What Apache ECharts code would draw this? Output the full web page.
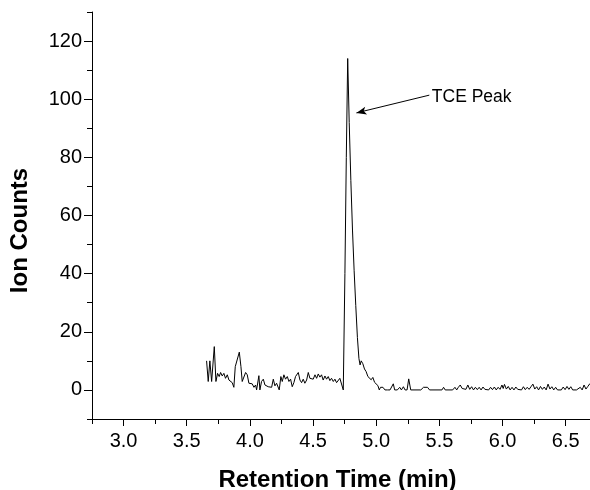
<!DOCTYPE html>
<html>
<head>
<meta charset="utf-8">
<script src="https://cdn.jsdelivr.net/npm/echarts@6/dist/echarts.min.js"></script>
<style>
html,body{margin:0;padding:0;background:#fff;}
#chart{width:590px;height:490px;}
</style>
</head>
<body>
<div id="chart"></div>
<script>
// Retention time (min)
const times = [
3.657,3.670,3.683,3.697,3.718,3.731,3.744,3.757,3.768,3.781,3.794,3.807,3.821,3.834,3.847,3.860,3.873,3.884,3.894,3.916,
3.929,3.939,3.953,3.966,3.979,3.992,4.005,4.018,4.032,4.045,4.053,4.071,4.079,4.092,4.106,4.119,4.132,4.145,4.158,4.172,
4.185,4.198,4.211,4.232,4.245,4.256,4.269,4.282,4.296,4.309,4.322,4.335,4.348,4.361,4.383,4.396,4.409,4.422,4.435,4.449,
4.462,4.475,4.488,4.501,4.515,4.528,4.541,4.554,4.567,4.580,4.594,4.607,4.620,4.633,4.646,4.660,4.673,4.686,4.699,4.712,
4.726,4.739,4.752,4.763,4.774,4.786,4.799,4.812,4.825,4.838,4.851,4.863,4.872,4.881,4.894,4.907,4.920,4.934,4.947,4.960,
4.973,4.987,5.000,5.013,5.024,5.034,5.053,5.069,5.088,5.109,5.122,5.135,5.146,5.167,5.186,5.199,5.215,5.228,5.244,5.257,
5.273,5.353,5.374,5.406,5.422,5.520,5.533,5.546,5.605,5.623,5.637,5.650,5.665,5.680,5.695,5.710,5.725,5.740,5.755,5.770,
5.785,5.800,5.815,5.830,5.845,5.860,5.875,5.890,5.905,5.920,5.935,5.950,5.965,5.980,5.995,6.005,6.015,6.030,6.045,6.060,
6.075,6.090,6.105,6.120,6.135,6.150,6.165,6.180,6.195,6.210,6.225,6.240,6.255,6.270,6.285,6.300,6.315,6.330,6.345,6.360,
6.375,6.390,6.405,6.420,6.435,6.450,6.465,6.480,6.495,6.510,6.525,6.540,6.555,6.570,6.585,6.600,6.615,6.630,6.645,6.660,
6.675,6.690,6.700
];
// Ion counts
const counts = [
10.0,2.9,10.0,2.9,14.9,2.9,5.7,4.6,6.0,4.8,5.7,4.0,5.2,3.4,3.7,2.5,0.9,8.0,8.6,13.0,
8.0,2.9,3.4,6.0,5.2,2.3,1.7,2.1,0.9,1.7,0,4.9,0,2.9,3.7,1.7,2.3,1.1,1.7,0.9,
3.7,1.4,2.3,0,4.6,2.9,5.2,3.7,4.6,2.9,3.7,1.1,2.5,4.6,6.0,3.4,2.5,3.7,2.3,3.4,
6.0,4.0,4.6,3.7,5.2,4.0,5.5,4.4,5.2,3.4,4.8,3.7,4.6,3.2,4.0,2.9,3.7,2.5,2.3,4.0,
3.7,0,40,80,114,92,72,55,41,29,18,10.8,8.6,10.0,9.0,7.2,6.3,4.6,5.2,3.5,
4.3,2.6,3.2,1.5,0,0.9,0.9,0,0,0,0,2.1,0,0,0.9,0,1.1,0,0,3.8,
0,0,0.9,0.9,0,0,0.9,0,0,0.9,0,0.9,1.7,0.5,0.9,0.2,1.7,0.2,1.1,0,
0.9,0.1,0.9,0,1.0,0.2,0.8,0,0.9,0.1,1.0,0,0.9,0.2,1.7,0.5,1.9,0.3,1.2,0,
0.9,0,1.0,0.2,0.8,0,1.1,0.1,0.9,0.2,1.1,2.0,0.3,1.1,0,1.2,0.2,1.0,0,2.0,
0.3,1.1,0,0.9,0,0,0,1.0,0.1,1.2,0.2,1.1,0,0,0,0,0.9,0,1.7,0.3,
1.2,2.1,1.6
];
const xMajorTicks = [3.0,3.5,4.0,4.5,5.0,5.5,6.0,6.5];
const xMinorTicks = [2.75,3.25,3.75,4.25,4.75,5.25,5.75,6.25];
const yMajorTicks = [0,20,40,60,80,100,120];
const yMinorTicks = [-10,10,30,50,70,90,110,130];
const xRange = [2.75, 6.70];
const yRange = [-10, 130];
const annotationText = 'TCE Peak';
const arrowFrom = [5.42, 101.4];
const arrowTo = [4.843, 95.3];

const FONT = 'Liberation Sans, Arial, Helvetica, sans-serif';
const chart = echarts.init(document.getElementById('chart'), null, {renderer: 'canvas'});

const baseAxis = (extra) => Object.assign({
  type: 'value',
  splitLine: {show: false},
  axisLine: {show: true, onZero: false, lineStyle: {color: '#000', width: 1}},
}, extra);

chart.setOption({
  animation: false,
  backgroundColor: '#fff',
  grid: {left: 92, right: -1, top: 12, bottom: 71, containLabel: false, outerBoundsMode: 'none'},
  xAxis: [
    baseAxis({
      min: xRange[0], max: xRange[1],
      name: 'Retention Time (min)', nameLocation: 'middle', nameGap: 49,
      nameTextStyle: {fontFamily: FONT, fontSize: 24, fontWeight: 'bold', color: '#000', padding: [0, 8, 0, 0]},
      axisTick: {show: true, customValues: xMajorTicks, length: 7, inside: false, lineStyle: {color: '#000', width: 1}},
      axisLabel: {show: true, customValues: xMajorTicks, margin: 12, fontFamily: FONT, fontSize: 20, color: '#000',
        formatter: v => Number(v).toFixed(1)}
    }),
    baseAxis({
      min: xRange[0], max: xRange[1], position: 'bottom',
      axisLine: {show: false, onZero: false},
      axisTick: {show: true, customValues: xMinorTicks, length: 5, inside: false, lineStyle: {color: '#000', width: 1}},
      axisLabel: {show: false}
    })
  ],
  yAxis: [
    baseAxis({
      min: yRange[0], max: yRange[1],
      name: 'Ion Counts', nameLocation: 'middle', nameGap: 60,
      nameTextStyle: {fontFamily: FONT, fontSize: 24, fontWeight: 'bold', color: '#000', padding: [0, 30, 0, 0]},
      axisTick: {show: true, customValues: yMajorTicks, length: 8, inside: false, lineStyle: {color: '#000', width: 1}},
      axisLabel: {show: true, customValues: yMajorTicks, margin: 10, fontFamily: FONT, fontSize: 20, color: '#000'}
    }),
    baseAxis({
      min: yRange[0], max: yRange[1], position: 'left',
      axisLine: {show: false, onZero: false},
      axisTick: {show: true, customValues: yMinorTicks, length: 5, inside: false, lineStyle: {color: '#000', width: 1}},
      axisLabel: {show: false}
    })
  ],
  series: [{
    type: 'line',
    xAxisIndex: 0, yAxisIndex: 0,
    data: times.map((t, i) => [t, counts[i]]),
    showSymbol: false,
    symbol: 'none',
    lineStyle: {color: '#000', width: 1},
    itemStyle: {color: '#000'},
    silent: true,
    clip: true,
    markLine: {
      silent: true,
      symbol: ['none', 'arrow'],
      symbolSize: [6, 10],
      lineStyle: {color: '#000', width: 1, type: 'solid'},
      label: {show: false},
      data: [[{coord: arrowFrom}, {coord: arrowTo}]]
    },
    markPoint: {
      silent: true,
      symbol: 'rect',
      symbolSize: 0,
      data: [{coord: [arrowFrom[0] + 0.02, arrowFrom[1] - 0.6], value: annotationText}],
      label: {show: true, position: 'right', distance: 0, formatter: annotationText,
        fontFamily: FONT, fontSize: 17.5, color: '#000'}
    }
  }]
});
</script>
</body>
</html>
